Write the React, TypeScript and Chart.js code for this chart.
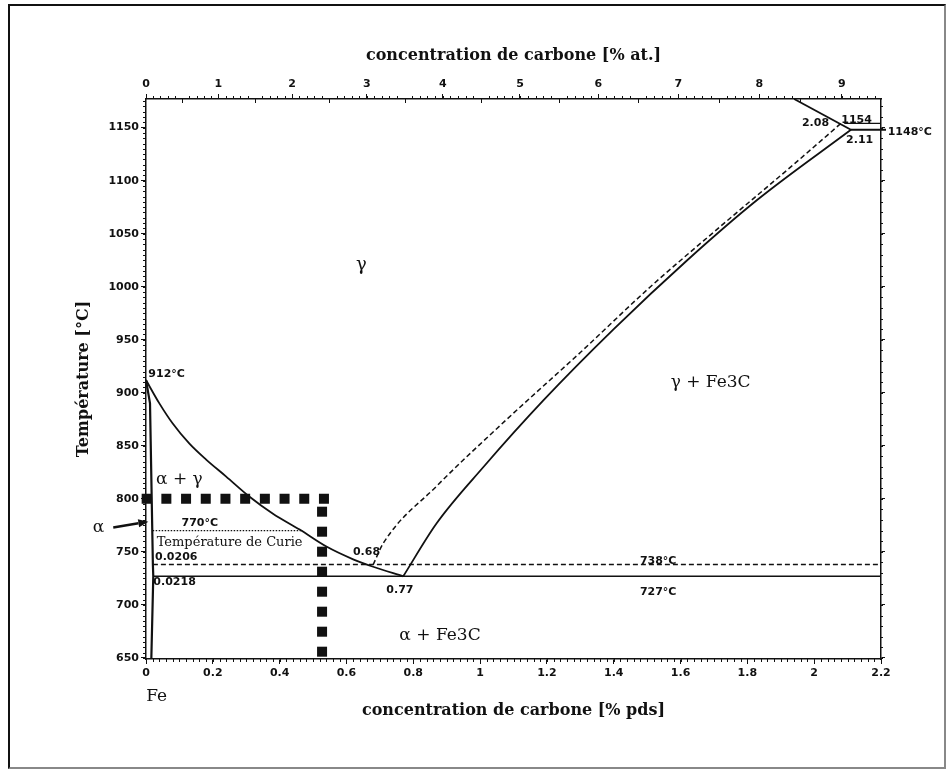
import React, { useEffect, useRef } from "react";
import { Chart, registerables } from "chart.js";

Chart.register(...registerables);

// ---------- axis ticks ----------
const X_TICKS = [0, 0.2, 0.4, 0.6, 0.8, 1, 1.2, 1.4, 1.6, 1.8, 2, 2.2];
const Y_TICKS = [650, 700, 750, 800, 850, 900, 950, 1000, 1050, 1100, 1150];
const AT_TICKS = [0, 1, 2, 3, 4, 5, 6, 7, 8, 9];

// ---------- phase boundaries (wt% C, °C) ----------
const A3_X = [0, 0.04, 0.08, 0.13, 0.18, 0.24, 0.31, 0.38, 0.46, 0.54, 0.62, 0.68, 0.77];
const A3_T = [912, 890, 871, 852, 837, 821, 802, 786, 771, 755, 743, 736, 727];

const ACM_X = [0.77, 0.87, 1.01, 1.19, 1.4, 1.62, 1.83, 2.11];
const ACM_T = [727, 777, 830, 893, 960, 1025, 1082, 1148];

const ACMG_X = [0.68, 0.71, 0.87, 1.08, 1.3, 1.51, 1.72, 1.93, 2.04, 2.08];
const ACMG_T = [738, 758, 812, 875, 938, 1000, 1057, 1113, 1143, 1154];

const SOLIDUS_X = [1.94, 2.11];
const SOLIDUS_T = [1177, 1148];

const ALPHA_X = [0, 0.012, 0.0206, 0.0218, 0.016];
const ALPHA_T = [912, 890, 738, 727, 650];

const EUTECTIC_X = [2.11, 2.215];
const EUTECTIC_T = [1148, 1148];
const EUTECTIC_G_X = [2.09, 2.2];
const EUTECTIC_G_T = [1154, 1154];

const EUTECTOID_X = [0.0218, 2.2];
const EUTECTOID_T = [727, 727];
const EUTECTOID_G_X = [0.0206, 2.2];
const EUTECTOID_G_T = [738, 738];

const CURIE_X = [0.02, 0.47];
const CURIE_T = [770, 770];

const MARK_H_X = [-0.013, 0.549];
const MARK_H_T = [800, 800];
const MARK_V_X = [0.527, 0.527];
const MARK_V_T = [792.6, 649.5];

// ---------- annotations ----------
const SANS = "bold 11px 'DejaVu Sans'";
const SERIF = "17px 'DejaVu Serif'";
const LABELS = [
  { t: "γ", x: 0.645, y: 1020, font: "18px 'DejaVu Serif'", align: "center" },
  { t: "γ + Fe3C", x: 1.69, y: 910, font: SERIF, align: "center" },
  { t: "α + γ", x: 0.1, y: 818, font: SERIF, align: "center" },
  { t: "α + Fe3C", x: 0.88, y: 671, font: SERIF, align: "center" },
  { t: "Fe", x: 0.032, y: 613.5, font: SERIF, align: "center" },
  { t: "α", x: -0.142, y: 773, font: SERIF, align: "center" },
  { t: "912°C", x: 0.007, y: 918, font: SANS, align: "left" },
  { t: "770°C", x: 0.161, y: 777, font: SANS, align: "center" },
  { t: "Température de Curie", x: 0.032, y: 759, font: "13px 'DejaVu Serif'", align: "left" },
  { t: "0.0206", x: 0.027, y: 745.5, font: SANS, align: "left" },
  { t: "0.0218", x: 0.022, y: 721, font: SANS, align: "left" },
  { t: "0.68", x: 0.66, y: 750, font: SANS, align: "center" },
  { t: "0.77", x: 0.76, y: 714, font: SANS, align: "center" },
  { t: "738°C", x: 1.533, y: 741.5, font: SANS, align: "center" },
  { t: "727°C", x: 1.533, y: 712, font: SANS, align: "center" },
  { t: "2.08", x: 2.004, y: 1154, font: SANS, align: "center" },
  { t: "1154", x: 2.127, y: 1157, font: SANS, align: "center" },
  { t: "2.11", x: 2.136, y: 1138.5, font: SANS, align: "center" },
  { t: "1148°C", x: 2.22, y: 1146, font: SANS, align: "left" },
];
const ARROW_FROM = { x: -0.098, y: 773 };
const ARROW_TO = { x: 0.007, y: 778.5 };

// atomic % C -> weight % C (for the top axis)
const M_C = 12.011;
const M_FE = 55.845;
function atToWt(a: number) {
  const mc = a * M_C;
  const mf = (100 - a) * M_FE;
  return (mc / (mc + mf)) * 100;
}

const pts = (xs: number[], ts: number[]) => xs.map((x, i) => ({ x, y: ts[i] }));

const INK = "#111";

const minorTicks = {
  id: "minorTicks",
  afterDraw(chart: any) {
    const { ctx, chartArea, scales } = chart;
    const { left, right, top, bottom } = chartArea;
    const x = scales.x;
    const y = scales.y;
    ctx.save();
    ctx.strokeStyle = INK;
    ctx.lineWidth = 1;
    ctx.beginPath();
    for (let t = 650; t <= 1175; t += 5) {
      const py = Math.round(y.getPixelForValue(t)) + 0.5;
      ctx.moveTo(left - 3, py);
      ctx.lineTo(left, py);
    }
    for (let t = 650; t <= 1175; t += 10) {
      const py = Math.round(y.getPixelForValue(t)) + 0.5;
      ctx.moveTo(right, py);
      ctx.lineTo(right + 2, py);
    }
    for (let i = 0; i <= 110; i++) {
      const px = Math.round(x.getPixelForValue(i * 0.02)) + 0.5;
      ctx.moveTo(px, bottom);
      ctx.lineTo(px, bottom + 3);
    }
    for (let i = 0; i <= 94; i++) {
      const px = Math.round(x.getPixelForValue(atToWt(i / 10))) + 0.5;
      if (i % 10 === 5) {
        ctx.moveTo(px, top);
        ctx.lineTo(px, top + 4);
      } else {
        ctx.moveTo(px, top);
        ctx.lineTo(px, top - 3);
      }
    }
    ctx.stroke();
    ctx.restore();
  },
};

const annotations = {
  id: "annotations",
  afterDatasetsDraw(chart: any) {
    const { ctx, scales } = chart;
    const x = scales.x;
    const y = scales.y;
    ctx.save();
    ctx.fillStyle = INK;
    ctx.textBaseline = "middle";
    for (const l of LABELS) {
      ctx.font = l.font;
      ctx.textAlign = l.align;
      ctx.fillText(l.t, x.getPixelForValue(l.x), y.getPixelForValue(l.y));
    }
    // arrow to the alpha region
    const x0 = x.getPixelForValue(ARROW_FROM.x);
    const y0 = y.getPixelForValue(ARROW_FROM.y);
    const x1 = x.getPixelForValue(ARROW_TO.x);
    const y1 = y.getPixelForValue(ARROW_TO.y);
    const ang = Math.atan2(y1 - y0, x1 - x0);
    const hl = 10;
    const hw = 4;
    const bx = x1 - hl * Math.cos(ang);
    const by = y1 - hl * Math.sin(ang);
    ctx.strokeStyle = INK;
    ctx.lineWidth = 2.5;
    ctx.beginPath();
    ctx.moveTo(x0, y0);
    ctx.lineTo(bx, by);
    ctx.stroke();
    ctx.beginPath();
    ctx.moveTo(x1, y1);
    ctx.lineTo(bx + hw * Math.sin(ang), by - hw * Math.cos(ang));
    ctx.lineTo(bx - hw * Math.sin(ang), by + hw * Math.cos(ang));
    ctx.closePath();
    ctx.fill();
    ctx.restore();
  },
};

function line(data: any[], width: number, dash: number[] = [], extra: any = {}) {
  return {
    data,
    showLine: true,
    borderColor: INK,
    backgroundColor: INK,
    borderWidth: width,
    borderDash: dash,
    pointRadius: 0,
    pointHoverRadius: 0,
    fill: false,
    tension: 0,
    ...extra,
  };
}

const tickFont = { family: "DejaVu Sans", weight: "bold" as const, size: 11 };
const titleFont = { family: "DejaVu Serif", weight: "bold" as const, size: 16 };

function fmt(v: number) {
  return String(Number(v.toFixed(1)));
}

export default function App() {
  const ref = useRef<HTMLCanvasElement | null>(null);

  useEffect(() => {
    if (!ref.current) return;
    const chart = new Chart(ref.current, {
      type: "scatter",
      data: {
        datasets: [
          line(pts(A3_X, A3_T), 1.8, [], { cubicInterpolationMode: "monotone" }),
          line(pts(ACM_X, ACM_T), 1.8, [], { cubicInterpolationMode: "monotone" }),
          line(pts(ACMG_X, ACMG_T), 1.5, [5, 3], { cubicInterpolationMode: "monotone" }),
          line(pts(SOLIDUS_X, SOLIDUS_T), 1.8),
          line(pts(ALPHA_X, ALPHA_T), 2.2),
          line(pts(EUTECTIC_X, EUTECTIC_T), 1.8, [], { clip: false }),
          line(pts(EUTECTIC_G_X, EUTECTIC_G_T), 1.2),
          line(pts(EUTECTOID_X, EUTECTOID_T), 1.5),
          line(pts(EUTECTOID_G_X, EUTECTOID_G_T), 1.5, [5, 3]),
          line(pts(CURIE_X, CURIE_T), 1.2, [1.5, 1.5]),
          line(pts(MARK_H_X, MARK_H_T), 10, [10, 9.7], { clip: false, borderCapStyle: "butt" }),
          line(pts(MARK_V_X, MARK_V_T), 10, [10, 10], { clip: false, borderCapStyle: "butt" }),
        ] as any,
      },
      options: {
        responsive: false,
        animation: false,
        events: [],
        layout: { padding: { left: 70, top: 42, right: 61, bottom: 45 } },
        plugins: { legend: { display: false }, tooltip: { enabled: false } },
        scales: {
          x: {
            type: "linear",
            position: "bottom",
            min: 0,
            max: 2.2,
            afterBuildTicks: (s: any) => {
              s.ticks = X_TICKS.map((v) => ({ value: v }));
            },
            afterFit: (s: any) => {
              s.height = 65;
            },
            ticks: {
              autoSkip: false,
              maxRotation: 0,
              color: INK,
              font: tickFont,
              padding: 3,
              callback: (v: any) => fmt(Number(v)),
            },
            grid: { drawOnChartArea: false, tickLength: 5, color: INK, tickColor: INK },
            border: { display: true, color: INK, width: 1.5 },
            title: {
              display: true,
              text: "concentration de carbone [% pds]",
              color: INK,
              font: titleFont,
              padding: 4,
            },
          },
          x2: {
            type: "linear",
            position: "top",
            min: 0,
            max: 2.2,
            afterBuildTicks: (s: any) => {
              s.ticks = AT_TICKS.map((a) => ({ value: atToWt(a) }));
            },
            afterFit: (s: any) => {
              s.height = 57;
            },
            ticks: {
              autoSkip: false,
              maxRotation: 0,
              color: INK,
              font: tickFont,
              padding: 3,
              callback: (_v: any, i: number) => String(AT_TICKS[i]),
            },
            grid: { drawOnChartArea: false, tickLength: 5, color: INK, tickColor: INK },
            border: { display: true, color: INK, width: 1.5 },
            title: {
              display: true,
              text: "concentration de carbone [% at.]",
              color: INK,
              font: titleFont,
              padding: 4,
            },
          },
          y: {
            type: "linear",
            position: "left",
            min: 649,
            max: 1177,
            afterBuildTicks: (s: any) => {
              s.ticks = Y_TICKS.map((v) => ({ value: v }));
            },
            afterFit: (s: any) => {
              s.width = 76;
            },
            ticks: { color: INK, font: tickFont, padding: 2, callback: (v: any) => String(v) },
            grid: { drawOnChartArea: false, tickLength: 5, color: INK, tickColor: INK },
            border: { display: true, color: INK, width: 1.5 },
            title: {
              display: true,
              text: "Température [°C]",
              color: INK,
              font: titleFont,
              padding: 4,
            },
          },
          y2: {
            type: "linear",
            position: "right",
            min: 649,
            max: 1177,
            afterBuildTicks: (s: any) => {
              s.ticks = Y_TICKS.map((v) => ({ value: v }));
            },
            afterFit: (s: any) => {
              s.width = 10;
            },
            ticks: { display: false },
            grid: { drawOnChartArea: false, tickLength: 4, color: INK, tickColor: INK },
            border: { display: true, color: INK, width: 1.5 },
          },
        },
      } as any,
      plugins: [minorTicks, annotations],
    });
    return () => chart.destroy();
  }, []);

  return (
    <div style={{ position: "absolute", left: 0, top: 0, width: 952, height: 769, background: "#fff" }}>
      <canvas ref={ref} width={952} height={769} style={{ position: "absolute", left: 0, top: 0 }} />
      <div
        style={{
          position: "absolute",
          left: 8,
          top: 4,
          width: 934,
          height: 761,
          borderLeft: "2px solid #111",
          borderTop: "2px solid #111",
          borderRight: "2px solid #888",
          borderBottom: "2px solid #888",
          pointerEvents: "none",
        }}
      />
    </div>
  );
}
